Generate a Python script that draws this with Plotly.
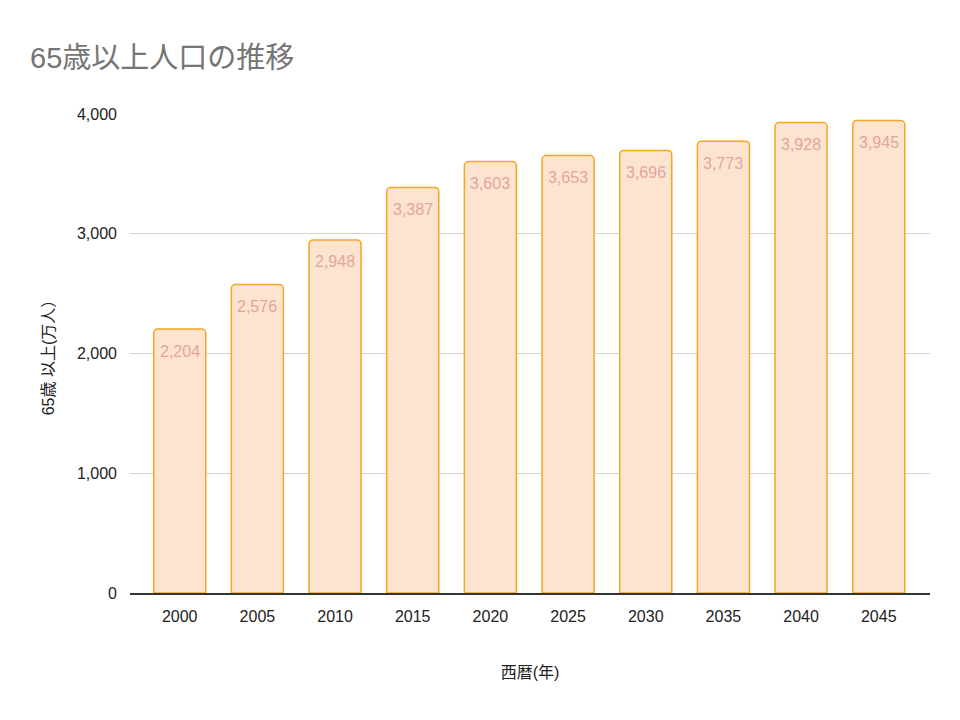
import plotly.graph_objects as go

years = ["2000", "2005", "2010", "2015", "2020", "2025", "2030", "2035", "2040", "2045"]
population = [2204, 2576, 2948, 3387, 3603, 3653, 3696, 3773, 3928, 3945]
y_ticks = [0, 1000, 2000, 3000, 4000]
y_tick_labels = ["0", "1,000", "2,000", "3,000", "4,000"]

FONT = "'Liberation Sans', Arial, 'Noto Sans CJK JP', sans-serif"

fig = go.Figure(
    go.Bar(
        x=years,
        y=population,
        width=0.67,
        marker=dict(color="#fde4cf", line=dict(color="#f5a623", width=1.5), cornerradius=4),
        hoverinfo="x+y",
        cliponaxis=False,
    )
)

for i, v in enumerate(population):
    fig.add_annotation(
        x=i, y=v, xref="x", yref="y", text=f"{v:,}", showarrow=False,
        yanchor="middle", yshift=-22,
        font=dict(color="#e3a3a3", size=16, family=FONT),
    )

fig.update_layout(
    width=960,
    height=720,
    paper_bgcolor="white",
    plot_bgcolor="white",
    margin=dict(l=130, r=30, t=114, b=127),
    title=dict(
        text="65歳以上人口の推移",
        x=30 / 960,
        xanchor="left",
        y=1 - 58 / 720,
        yanchor="middle",
        font=dict(size=29, color="#757575", family=FONT),
    ),
    font=dict(family=FONT, color="#222222"),
    showlegend=False,
)

fig.update_xaxes(
    type="category",
    range=[-0.64, 9.66],
    showgrid=False,
    showline=True,
    linecolor="#333333",
    linewidth=1.5,
    ticks="",
    ticklabelstandoff=8,
    tickfont=dict(size=16, color="#222222"),
    title=dict(text="西暦(年)", font=dict(size=16, color="#222222"), standoff=43),
)
fig.update_yaxes(
    range=[0, 4000],
    tickvals=y_ticks,
    ticktext=y_tick_labels,
    showgrid=True,
    gridcolor="#d3d3d3",
    gridwidth=1,
    zeroline=False,
    ticks="",
    ticklabelstandoff=12,
    tickfont=dict(size=16, color="#222222"),
    title=dict(text="65歳 以上(万人）", font=dict(size=16, color="#222222"), standoff=18),
)

fig.write_html("out.html")
